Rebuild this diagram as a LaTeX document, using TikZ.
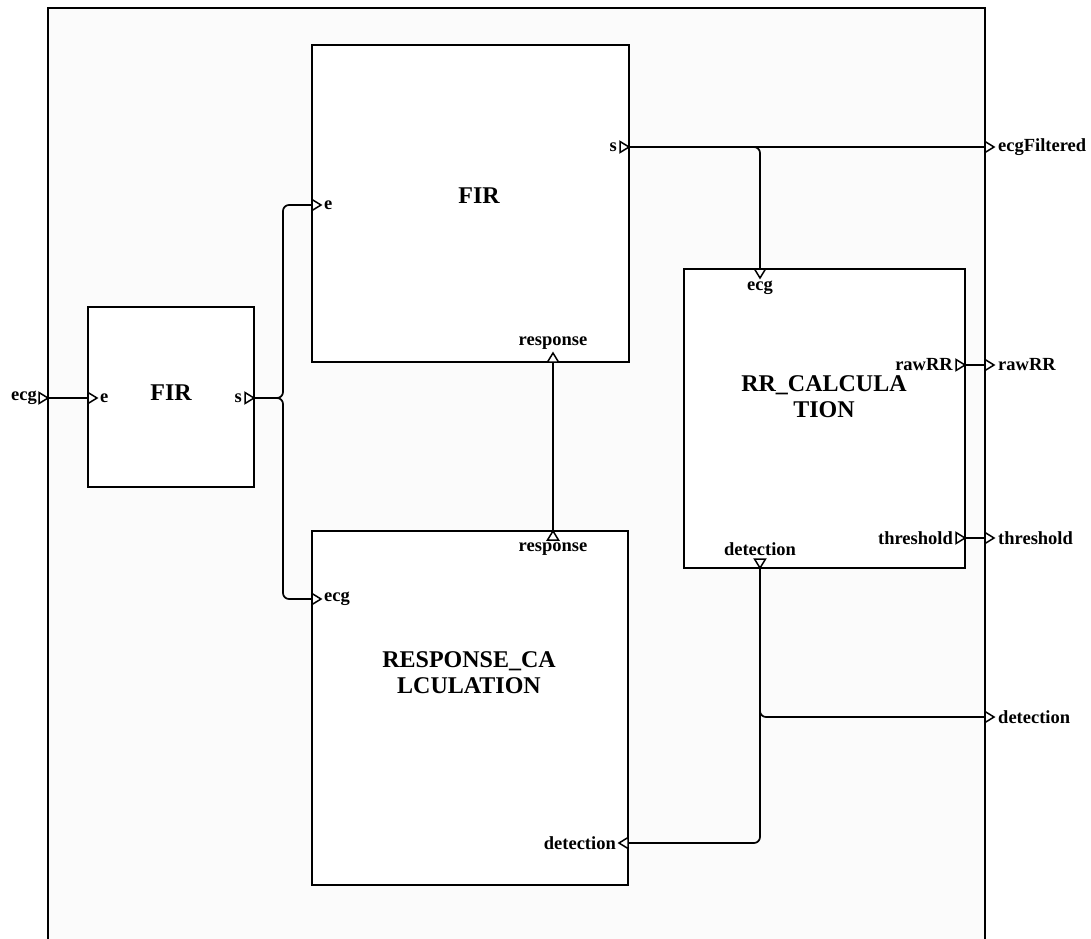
\documentclass[tikz,border=0pt]{standalone}
\usepackage{fontspec}
\setmainfont{Liberation Serif}
\usetikzlibrary{positioning, shapes.geometric}

\begin{document}
\begin{tikzpicture}[x=1pt, y=-1pt,
    block/.style={rectangle, draw=black, line width=1.8pt, fill=white, outer sep=0pt, inner sep=0pt},
    title/.style={font=\bfseries\fontsize{24}{26}\selectfont, align=center},
    port/.style={isosceles triangle, isosceles triangle stretches, draw=black, line width=1.5pt, fill=white, inner sep=0pt, outer sep=0pt, minimum width=11pt, minimum height=9pt},
    plabel/.style={font=\bfseries\fontsize{18.5}{20}\selectfont, inner sep=0pt},
    wire/.style={line width=1.7pt, rounded corners=6pt}
]
    \useasboundingbox (0,0) rectangle (1091,938);
    \draw[line width=1.8pt, fill=black!1.5] (48,8) rectangle (985,960);

    \node[block, minimum width=166pt, minimum height=180pt] (fir1) at (171,397) {};
    \node[block, minimum width=317pt, minimum height=317pt] (fir2) at (470.5,203.5) {};
    \node[block, minimum width=316pt, minimum height=354pt] (resp) at (470,708) {};
    \node[block, minimum width=281pt, minimum height=299pt] (rr) at (824.5,418.5) {};

    \node[title] (t1) at (171,393) {FIR};
    \node[title] (t2) at (479,196) {FIR};
    \node[title] (t3) at (469,673) {RESPONSE\_CA\\LCULATION};
    \node[title] (t4) at (824,397) {RR\_CALCULA\\TION};

    \node[port, anchor=apex] (ecgIn) at (48,398) {};
    \node[port, anchor=lower side] (filtOut) at (985,147) {};
    \node[port, anchor=lower side] (rawOut) at (985,365) {};
    \node[port, anchor=lower side] (thrOut) at (985,538) {};
    \node[port, anchor=lower side] (detOut) at (985,717) {};

    \node[port, anchor=lower side] (fir1e) at (88,398) {};
    \node[port, anchor=apex] (fir1s) at (254,398) {};
    \node[port, anchor=lower side] (fir2e) at (312,205) {};
    \node[port, anchor=apex] (fir2s) at (629,147) {};
    \node[port, shape border rotate=90, anchor=lower side] (fir2r) at (553,362) {};
    \node[port, anchor=lower side] (respe) at (312,599) {};
    \node[port, shape border rotate=90, anchor=apex] (respr) at (553,531) {};
    \node[port, shape border rotate=180, anchor=lower side] (respd) at (628,843) {};
    \node[port, shape border rotate=270, anchor=lower side] (rre) at (760,269) {};
    \node[port, shape border rotate=270, anchor=apex] (rrd) at (760,568) {};
    \node[port, anchor=apex] (rrraw) at (965,365) {};
    \node[port, anchor=apex] (rrthr) at (965,538) {};

    \node[plabel, left=2pt of ecgIn.lower side] (lEcgIn) {ecg};
    \node[plabel, right=4pt of filtOut.apex] (lFilt) {ecgFiltered};
    \node[plabel, right=4pt of rawOut.apex] (lRaw) {rawRR};
    \node[plabel, right=4pt of thrOut.apex] (lThr) {threshold};
    \node[plabel, right=4pt of detOut.apex] (lDet) {detection};
    \node[plabel, right=3pt of fir1e.apex] (lFir1e) {e};
    \node[plabel, left=3pt of fir1s.lower side] (lFir1s) {s};
    \node[plabel, right=3pt of fir2e.apex] (lFir2e) {e};
    \node[plabel, left=3pt of fir2s.lower side] (lFir2s) {s};
    \node[plabel, above=3pt of fir2r.apex] (lFir2r) {response};
    \node[plabel, right=3pt of respe.apex] (lRespe) {ecg};
    \node[plabel, below=3pt of respr.lower side] (lRespr) {response};
    \node[plabel, left=3pt of respd.apex] (lRespd) {detection};
    \node[plabel, below=3pt of rre.apex] (lRre) {ecg};
    \node[plabel, above=3pt of rrd.lower side] (lRrd) {detection};
    \node[plabel, left=3pt of rrraw.lower side] (lRaw2) {rawRR};
    \node[plabel, left=3pt of rrthr.lower side] (lThr2) {threshold};

    \coordinate (split) at (283,398);
    \draw[wire] (ecgIn.apex) -- (fir1e.lower side);
    \draw[wire] (fir1s.apex) -- (split) |- (fir2e.lower side);
    \draw[wire] (fir1s.apex) -- (split) |- (respe.lower side);
    \draw[wire] (fir2s.apex) -- (filtOut.lower side);
    \draw[wire] (fir2s.apex) -| (rre.lower side);
    \draw[wire] (respr.apex) -- (fir2r.lower side);
    \draw[wire] (rrd.apex) |- (respd.lower side);
    \draw[wire] (rrd.apex) |- (detOut.lower side);
    \draw[wire] (rrraw.apex) -- (rawOut.lower side);
    \draw[wire] (rrthr.apex) -- (thrOut.lower side);
\end{tikzpicture}
\end{document}
